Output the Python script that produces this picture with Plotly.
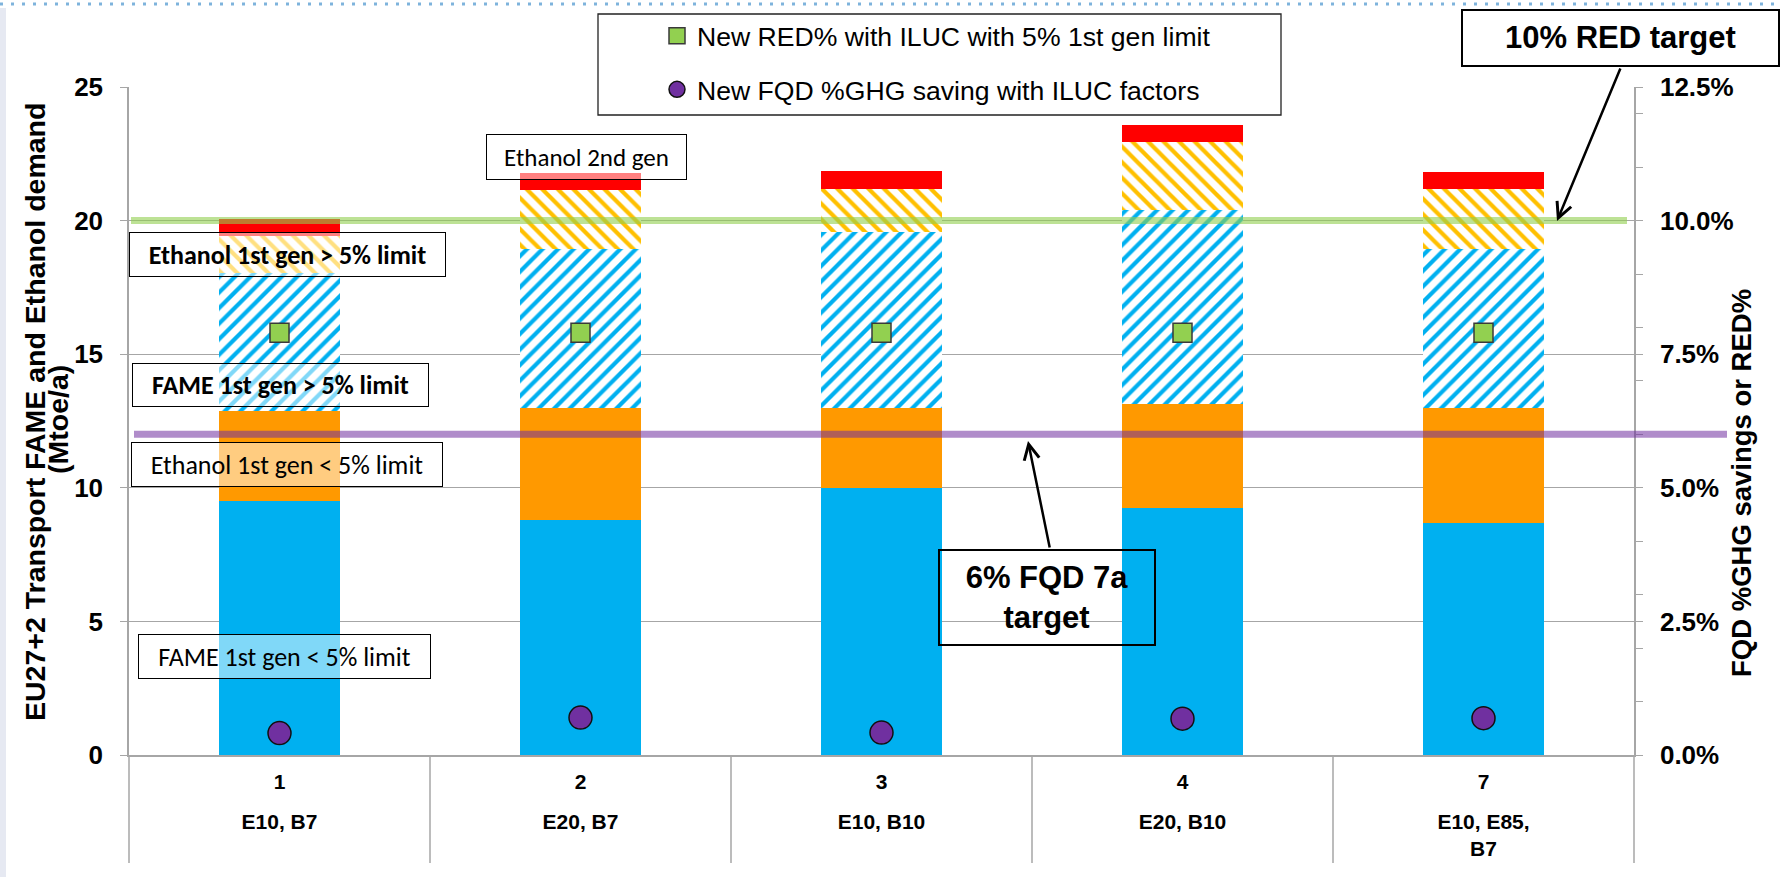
import plotly.graph_objects as go

# ---- data -------------------------------------------------------------
scenarios = ["1", "2", "3", "4", "7"]
blends = ["E10, B7", "E20, B7", "E10, B10", "E20, B10", "E10, E85,<br>B7"]

fame_below_limit = [9.52, 8.79, 9.98, 9.23, 8.68]      # FAME 1st gen < 5% limit
ethanol_below_limit = [3.34, 4.21, 3.02, 3.90, 4.32]   # Ethanol 1st gen < 5% limit
fame_above_limit = [5.19, 5.93, 6.59, 7.26, 5.93]      # FAME 1st gen > 5% limit
ethanol_above_limit = [1.38, 2.23, 1.60, 2.57, 2.25]   # Ethanol 1st gen > 5% limit
ethanol_2nd_gen = [0.62, 0.62, 0.67, 0.62, 0.63]       # Ethanol 2nd gen

red_pct = [0.079, 0.079, 0.079, 0.079, 0.079]          # New RED% with ILUC, 5% cap
fqd_pct = [0.0041, 0.0070, 0.0042, 0.0068, 0.0069]     # New FQD %GHG saving with ILUC

red_target = 0.10
fqd_target = 0.06

left_ticks = [0, 5, 10, 15, 20, 25]
right_ticks = [0, 0.025, 0.05, 0.075, 0.10, 0.125]
right_minor_ticks = [0.01, 0.02, 0.03, 0.04, 0.06, 0.07, 0.08, 0.09, 0.11, 0.12]

# ---- styling ----------------------------------------------------------
ARIAL = "Liberation Sans, Arial, sans-serif"
CALIBRI = "Carlito, Lato, sans-serif"
GRID = "#a6a6a6"
BLUE = "#00b0f0"
ORANGE = "#ff9900"
YELLOW = "#ffc000"
RED = "#ff0000"

W, H = 1781, 877
L, R, T, B = 129, 147, 87, 122
PW, PH = W - L - R, H - T - B


def px_x(p):
    return (p - L) / PW


def px_y(p):
    return (H - B - p) / PH


fig = go.Figure()

solid = dict(line=dict(width=0))
fig.add_bar(x=scenarios, y=fame_below_limit, name="FAME 1st gen < 5% limit",
            marker=dict(color=BLUE, **solid), showlegend=False)
fig.add_bar(x=scenarios, y=ethanol_below_limit, name="Ethanol 1st gen < 5% limit",
            marker=dict(color=ORANGE, **solid), showlegend=False)
fig.add_bar(x=scenarios, y=fame_above_limit, name="FAME 1st gen > 5% limit",
            marker=dict(color=BLUE, line=dict(width=0),
                        pattern=dict(shape="/", fgcolor=BLUE, bgcolor="white",
                                     size=11, solidity=0.38, fillmode="replace")),
            showlegend=False)
fig.add_bar(x=scenarios, y=ethanol_above_limit, name="Ethanol 1st gen > 5% limit",
            marker=dict(color=YELLOW, line=dict(width=0),
                        pattern=dict(shape="\\", fgcolor=YELLOW, bgcolor="white",
                                     size=11, solidity=0.38, fillmode="replace")),
            showlegend=False)
fig.add_bar(x=scenarios, y=ethanol_2nd_gen, name="Ethanol 2nd gen",
            marker=dict(color=RED, **solid), showlegend=False)

# percentage series live on the secondary axes (blend names along x2)
fig.add_scatter(x=blends, y=red_pct, xaxis="x2", yaxis="y2", mode="markers",
                name="New RED% with ILUC with 5% 1st gen limit", legendgroup="red",
                marker=dict(symbol="square", size=19, color="#92d050",
                            line=dict(color="#3a3a3a", width=1.5)))
fig.add_scatter(x=blends, y=fqd_pct, xaxis="x2", yaxis="y2", mode="markers",
                name="New FQD %GHG saving with ILUC factors", legendgroup="fqd",
                marker=dict(symbol="circle", size=23, color="#7030a0",
                            line=dict(color="#111111", width=1.5)))

# ---- target lines, category dividers, frames, slide decoration ---------
shapes = [
    dict(type="line", xref="paper", yref="y2", x0=px_x(131), x1=px_x(1627),
         y0=red_target, y1=red_target, layer="above", opacity=0.6,
         line=dict(color="#92d050", width=7)),
    dict(type="line", xref="paper", yref="y2", x0=px_x(134), x1=px_x(1727),
         y0=fqd_target, y1=fqd_target, layer="above", opacity=0.55,
         line=dict(color="#7030a0", width=7)),
    # legend frame
    dict(type="rect", xref="paper", yref="paper", x0=px_x(598), x1=px_x(1281),
         y0=px_y(115), y1=px_y(14), layer="above", fillcolor="white",
         line=dict(color="#222222", width=1.3)),
    # frame of the "10% RED target" call-out
    dict(type="rect", xref="paper", yref="paper", x0=px_x(1462), x1=px_x(1779),
         y0=px_y(66), y1=px_y(10), layer="above", fillcolor="rgba(0,0,0,0)",
         line=dict(color="black", width=2)),
    dict(type="line", xref="paper", yref="paper", x0=px_x(0), x1=px_x(W),
         y0=px_y(4), y1=px_y(4), layer="above",
         line=dict(color="#7eb3dc", width=3, dash="3px,8px")),
    dict(type="rect", xref="paper", yref="paper", x0=px_x(0), x1=px_x(6),
         y0=px_y(H), y1=px_y(8), layer="below", fillcolor="#e6e9f2",
         line=dict(width=0)),
]
n_cat = len(scenarios)
for i in range(n_cat + 1):
    shapes.append(dict(type="line", xref="paper", yref="paper",
                       x0=i / n_cat, x1=i / n_cat, y0=0, y1=px_y(863),
                       layer="below", line=dict(color=GRID, width=1.5)))


def label_box(text, x0, y0, x1, y1, size, bold=False, bg="rgba(255,255,255,0.5)",
              bw=1, family=CALIBRI):
    pad = 2
    return dict(text=("<b>%s</b>" % text) if bold else text,
                xref="paper", yref="paper",
                x=px_x((x0 + x1) / 2), y=px_y((y0 + y1) / 2),
                xanchor="center", yanchor="middle", showarrow=False,
                width=x1 - x0 - 2 * pad - 2 * bw, height=y1 - y0 - 2 * pad - 2 * bw,
                bgcolor=bg, bordercolor="black", borderwidth=bw, borderpad=pad,
                font=dict(family=family, size=size, color="black"))


annotations = [
    label_box("Ethanol 1st gen > 5% limit", 129, 232, 446, 277, 26, bold=True),
    label_box("FAME 1st gen > 5% limit", 132, 363, 429, 407, 26, bold=True),
    label_box("Ethanol 1st gen < 5% limit", 131, 442, 443, 487, 26),
    label_box("FAME 1st gen < 5% limit", 138, 634, 431, 679, 26),
    label_box("Ethanol 2nd gen", 486, 134, 687, 180, 25),
    dict(text="<b>10% RED target</b>", xref="paper", yref="paper",
         x=px_x(1620.5), y=px_y(38), xanchor="center", yanchor="middle",
         showarrow=False, font=dict(family=ARIAL, size=31, color="black")),
    label_box("6% FQD 7a<br>target", 938, 549, 1156, 646, 31, bold=True,
              bg="rgba(0,0,0,0)", bw=2, family=ARIAL),
    # arrows pointing at the two target lines
    dict(text="", xref="paper", yref="paper", x=px_x(1557), y=px_y(221),
         ax=1621 - 1557, ay=67 - 221, showarrow=True, arrowhead=5, arrowsize=1.2,
         arrowwidth=2.5, arrowcolor="black", standoff=0),
    dict(text="", xref="paper", yref="paper", x=px_x(1028), y=px_y(441),
         ax=1050 - 1028, ay=549 - 441, showarrow=True, arrowhead=5, arrowsize=1.2,
         arrowwidth=2.5, arrowcolor="black", standoff=0),
    # axis titles
    dict(text="<b>EU27+2 Transport FAME and Ethanol demand</b>", textangle=-90,
         xref="paper", yref="paper", x=px_x(35), y=px_y(412), showarrow=False,
         xanchor="center", yanchor="middle",
         font=dict(family=ARIAL, size=28.5, color="black")),
    dict(text="<b>(Mtoe/a)</b>", textangle=-90,
         xref="paper", yref="paper", x=px_x(58), y=px_y(420), showarrow=False,
         xanchor="center", yanchor="middle",
         font=dict(family=ARIAL, size=28.5, color="black")),
    dict(text="<b>FQD %GHG savings or RED%</b>", textangle=-90,
         xref="paper", yref="paper", x=px_x(1741), y=px_y(483), showarrow=False,
         xanchor="center", yanchor="middle",
         font=dict(family=ARIAL, size=27.5, color="black")),
]

tick_font = dict(family=ARIAL, size=26, color="black", weight="bold")
cat_font = dict(family=ARIAL, size=21, color="black", weight="bold")
cat_range = [-0.5, n_cat - 0.5]

fig.update_layout(
    template="none",
    width=W, height=H,
    margin=dict(l=L, r=R, t=T, b=B, pad=0),
    paper_bgcolor="white", plot_bgcolor="white",
    font=dict(family=ARIAL, color="black"),
    barmode="stack", bargap=0.6,
    shapes=shapes, annotations=annotations,
    legend=dict(x=px_x(657), y=px_y(12), xanchor="left", yanchor="top",
                bgcolor="rgba(0,0,0,0)", borderwidth=0, tracegroupgap=16,
                font=dict(family=ARIAL, size=26.6, color="black")),
    xaxis=dict(type="category", range=cat_range, showline=True, linecolor=GRID,
               linewidth=1.5, showgrid=False, zeroline=False, ticks="",
               automargin=False, ticklabelstandoff=7, tickfont=cat_font),
    xaxis2=dict(type="category", range=cat_range, overlaying="x", anchor="y2",
                side="bottom", showline=False, showgrid=False, zeroline=False,
                ticks="", automargin=False, ticklabelstandoff=52, tickfont=cat_font),
    yaxis=dict(range=[0, 25], tickmode="array", tickvals=left_ticks,
               showgrid=True, gridcolor=GRID, gridwidth=1.3, zeroline=False,
               ticks="outside", ticklen=7, tickcolor=GRID, tickwidth=1.3,
               showline=True, linecolor=GRID, linewidth=1.5, automargin=False,
               ticklabelstandoff=12, tickfont=tick_font),
    yaxis2=dict(range=[0, 0.125], overlaying="y", side="right", anchor="x2",
                tickmode="array", tickvals=right_ticks, tickformat=".1%",
                showgrid=False, zeroline=False,
                ticks="outside", ticklen=7, tickcolor=GRID, tickwidth=1.3,
                minor=dict(tickmode="array", tickvals=right_minor_ticks,
                           ticks="outside", ticklen=7, tickcolor=GRID,
                           tickwidth=1.3, showgrid=False),
                showline=True, linecolor=GRID, linewidth=1.5, automargin=False,
                ticklabelstandoff=12, tickfont=tick_font),
)

fig.write_html("out.html")
